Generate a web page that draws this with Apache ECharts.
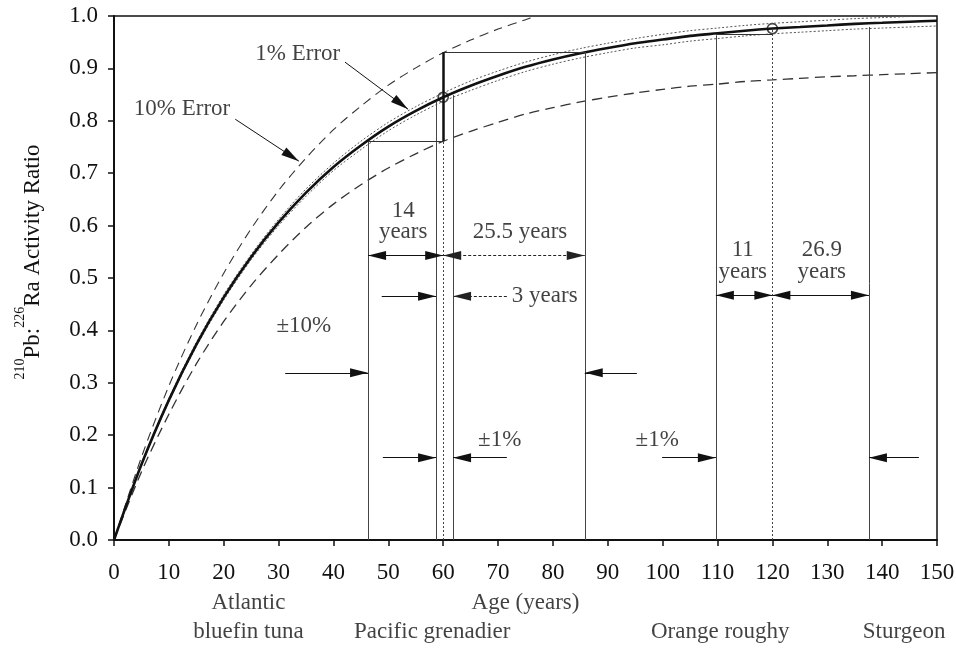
<!DOCTYPE html>
<html>
<head>
<meta charset="utf-8">
<title>210Pb:226Ra activity ratio vs age</title>
<script src="https://cdn.jsdelivr.net/npm/echarts@6/dist/echarts.min.js"></script>
<style>
  html, body { margin: 0; padding: 0; background: #fff; }
  #chart { width: 956px; height: 648px; }
</style>
</head>
<body>
<div id="chart"></div>
<script>
// ingrowth curve and error envelopes, every 5 years
var ages = [0, 5, 10, 15, 20, 25, 30, 35, 40, 45, 50, 55, 60, 65, 70, 75, 80, 85, 90, 95, 100, 105, 110, 115, 120, 125, 130, 135, 140, 145, 150];
var ratio = [0, 0.144, 0.267, 0.373, 0.463, 0.540, 0.606, 0.663, 0.712, 0.753, 0.789, 0.819, 0.845, 0.867, 0.886, 0.903, 0.917, 0.929, 0.939, 0.948, 0.955, 0.962, 0.967, 0.972, 0.976, 0.979, 0.982, 0.985, 0.987, 0.989, 0.991];
var ratioPlus1 = [0, 0.145, 0.270, 0.377, 0.468, 0.545, 0.612, 0.670, 0.719, 0.761, 0.797, 0.827, 0.853, 0.876, 0.895, 0.912, 0.926, 0.938, 0.948, 0.957, 0.965, 0.972, 0.977, 0.982, 0.986, 0.989, 0.992, 0.995, 0.997, 0.999, 1.0];
var ratioMinus1 = [0, 0.143, 0.264, 0.369, 0.458, 0.535, 0.600, 0.656, 0.705, 0.745, 0.781, 0.811, 0.837, 0.858, 0.877, 0.894, 0.908, 0.920, 0.930, 0.939, 0.945, 0.952, 0.957, 0.962, 0.966, 0.969, 0.972, 0.975, 0.977, 0.979, 0.981];
var ratioMinus10 = [0, 0.130, 0.240, 0.336, 0.417, 0.486, 0.545, 0.597, 0.641, 0.678, 0.710, 0.737, 0.761, 0.780, 0.797, 0.813, 0.825, 0.836, 0.845, 0.853, 0.860, 0.866, 0.870, 0.875, 0.878, 0.881, 0.884, 0.886, 0.888, 0.890, 0.892];
var plus10Ages = [0, 5, 10, 15, 20, 25, 30, 35, 40, 45, 50, 55, 60, 65, 70, 75, 77];
var ratioPlus10 = [0, 0.158, 0.294, 0.410, 0.509, 0.594, 0.667, 0.729, 0.783, 0.828, 0.868, 0.901, 0.930, 0.954, 0.975, 0.993, 1.0];

// dated samples (open circles)
var datedAges = [60, 120];
var datedRatios = [0.845, 0.976];

// vertical drop lines from the curve to the age axis
var dropAges = [46.3, 58.7, 61.8, 85.8, 109.7, 137.6];
var dropTops = [0.761, 0.837, 0.849, 0.931, 0.963, 0.979];

// horizontal steps of the error construction
var stepFrom = [46.3, 60, 109.7];
var stepTo = [60, 85.8, 120];
var stepRatios = [0.761, 0.931, 0.966];
var riser = [60, 0.761, 0.931];

// double headed spans
var spanFrom = [46.3, 109.7, 120];
var spanTo = [60, 120, 137.6];
var spanRatios = [0.543, 0.467, 0.467];
var dashSpanFrom = [60];
var dashSpanTo = [85.8];
var dashSpanRatios = [0.543];

// single arrows [fromAge, fromRatio, toAge, toRatio]
var pointers = [
  [31.2, 0.319, 46.3, 0.319],
  [95.3, 0.319, 85.8, 0.319],
  [48.8, 0.465, 58.7, 0.465],
  [49.0, 0.157, 58.7, 0.157],
  [71.6, 0.157, 61.8, 0.157],
  [99.9, 0.157, 109.7, 0.157],
  [146.7, 0.157, 137.6, 0.157],
  [42.1, 0.912, 53.6, 0.822],
  [22.1, 0.803, 33.7, 0.723]
];
var dashPointers = [
  [71.6, 0.465, 61.8, 0.465]
];

// annotation text
var noteTexts = ['1% Error', '10% Error', '14', 'years', '25.5 years', '3 years', '±10%', '±1%', '±1%', '11', 'years', '26.9', 'years'];
var noteAges = [33.5, 12.4, 52.7, 52.7, 74.0, 78.5, 34.6, 70.3, 99.0, 114.6, 114.6, 129.0, 129.0];
var noteRatios = [0.927, 0.822, 0.627, 0.587, 0.587, 0.465, 0.409, 0.191, 0.191, 0.554, 0.512, 0.554, 0.512];

// text under the age axis: axis title and species
var underTexts = ['Age (years)', 'Atlantic\nbluefin tuna', 'Pacific grenadier', 'Orange roughy', 'Sturgeon'];
var underAges = [75, 24.5, 58, 110.5, 144];
var underRows = [1, 1.5, 2, 2, 2];

var serif = 'Liberation Serif';
var ink = '#111';
var headSize = [9, 18];

function end(x, y) {
  return { coord: [x, y], symbolSize: headSize };
}

function seg(x1, y1, x2, y2) {
  return [end(x1, y1), end(x2, y2)];
}

function pairs(xs, ys) {
  return xs.map(function (x, i) { return [x, ys[i]]; });
}

function hSegs(from, to, ys) {
  return from.map(function (x, i) { return seg(x, ys[i], to[i], ys[i]); });
}

function guide(segs, style, symbols) {
  return {
    type: 'line',
    data: [],
    silent: true,
    markLine: {
      silent: true,
      animation: false,
      symbol: symbols || ['none', 'none'],
      symbolOffset: [[0, headSize[1] / 2], [0, headSize[1] / 2]],
      label: { show: false },
      emphasis: { disabled: true },
      lineStyle: style,
      data: segs
    }
  };
}

var dropSegs = dropAges.map(function (x, i) { return seg(x, 0, x, dropTops[i]); });
var dottedSegs = datedAges.map(function (x, i) { return seg(x, 0, x, datedRatios[i]); });
var riserSeg = [seg(riser[0], riser[1], riser[0], riser[2])];
var pointerSegs = pointers.map(function (p) { return seg(p[0], p[1], p[2], p[3]); });
var dashPointerSegs = dashPointers.map(function (p) { return seg(p[0], p[1], p[2], p[3]); });

var chart = echarts.init(document.getElementById('chart'));

chart.setOption({
  animation: false,
  backgroundColor: '#fff',
  textStyle: { fontFamily: serif, fontWeight: 400 },
  grid: {
    left: 114, right: 19, top: 16, bottom: 108,
    show: true, borderColor: ink, borderWidth: 1.5,
    outerBoundsMode: 'none'
  },
  xAxis: {
    type: 'value',
    min: 0, max: 150, interval: 10,
    axisLine: { show: true, lineStyle: { color: ink, width: 2 } },
    axisTick: { show: true, length: 6, lineStyle: { color: ink, width: 1.5 } },
    axisLabel: { fontFamily: serif, fontSize: 23, color: ink, margin: 21 },
    splitLine: { show: false }
  },
  yAxis: {
    type: 'value',
    min: 0, max: 1, interval: 0.1,
    name: '{sup|210}{base|Pb:}{sup|226}{base|Ra Activity Ratio}',
    nameLocation: 'middle',
    nameGap: 70,
    nameRotate: 90,
    nameMoveOverlap: false,
    nameTextStyle: {
      color: ink,
      fontWeight: 400,
      padding: [0, 0, 0, 32],
      rich: {
        base: { fontFamily: serif, fontSize: 23, fontWeight: 400, color: ink, lineHeight: 31, verticalAlign: 'bottom' },
        sup: { fontFamily: serif, fontSize: 14, fontWeight: 400, color: ink, verticalAlign: 'top' }
      }
    },
    axisLine: { show: true, lineStyle: { color: ink, width: 2 } },
    axisTick: { show: true, length: 6, lineStyle: { color: ink, width: 1.5 } },
    axisLabel: {
      fontFamily: serif, fontSize: 23, color: ink, margin: 16,
      formatter: function (v) { return v.toFixed(1); }
    },
    splitLine: { show: false }
  },
  series: [
    guide(dropSegs, { color: '#444', width: 1, type: 'solid' }),
    guide(dottedSegs, { color: '#444', width: 1, type: [2, 2] }),
    guide(hSegs(stepFrom, stepTo, stepRatios), { color: '#333', width: 1, type: 'solid' }),
    guide(riserSeg, { color: ink, width: 2.5, type: 'solid' }),
    guide(hSegs(spanFrom, spanTo, spanRatios), { color: ink, width: 1, type: 'solid' }, ['triangle', 'triangle']),
    guide(hSegs(dashSpanFrom, dashSpanTo, dashSpanRatios), { color: '#222', width: 1, type: [3, 2] }, ['triangle', 'triangle']),
    guide(pointerSegs, { color: ink, width: 1, type: 'solid' }, ['none', 'triangle']),
    guide(dashPointerSegs, { color: '#222', width: 1, type: [3, 2] }, ['none', 'triangle']),
    {
      name: '+10%', type: 'line', smooth: 0.3, showSymbol: false, silent: true,
      lineStyle: { color: '#333', width: 1.1, type: [9, 6] },
      data: pairs(plus10Ages, ratioPlus10)
    },
    {
      name: '-10%', type: 'line', smooth: 0.3, showSymbol: false, silent: true,
      lineStyle: { color: '#333', width: 1.3, type: [10, 6] },
      data: pairs(ages, ratioMinus10)
    },
    {
      name: '+1%', type: 'line', smooth: 0.3, showSymbol: false, silent: true,
      lineStyle: { color: '#555', width: 1, type: [2, 2] },
      data: pairs(ages, ratioPlus1)
    },
    {
      name: '-1%', type: 'line', smooth: 0.3, showSymbol: false, silent: true,
      lineStyle: { color: '#555', width: 1, type: [2, 2] },
      data: pairs(ages, ratioMinus1)
    },
    {
      name: 'ratio', type: 'line', smooth: 0.3, showSymbol: false, silent: true,
      lineStyle: { color: ink, width: 2.6 },
      data: pairs(ages, ratio)
    },
    {
      name: 'dated', type: 'scatter', silent: true,
      symbol: 'circle', symbolSize: 10,
      itemStyle: { color: '#fff', borderColor: ink, borderWidth: 1.6 },
      data: pairs(datedAges, datedRatios)
    },
    {
      name: 'notes', type: 'scatter', silent: true, clip: false,
      symbolSize: 0,
      label: {
        show: true, position: 'inside', formatter: '{b}',
        fontFamily: serif, fontSize: 23, color: ink
      },
      data: noteTexts.map(function (t, i) {
        return { name: t, value: [noteAges[i], noteRatios[i]] };
      })
    },
    {
      name: 'under', type: 'scatter', silent: true, clip: false,
      symbolSize: 0,
      label: {
        show: true, position: 'inside', formatter: '{b}',
        fontFamily: serif, fontSize: 23, fontWeight: 400, color: ink, lineHeight: 29
      },
      data: underTexts.map(function (t, i) {
        return {
          name: t,
          value: [underAges[i], 0],
          label: { offset: [0, 34 + underRows[i] * 29] }
        };
      })
    }
  ]
});
</script>
</body>
</html>
